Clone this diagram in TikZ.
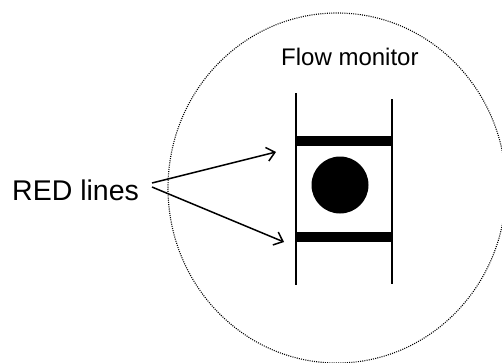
\documentclass[tikz,border=0pt]{standalone}
\usepackage{fontspec}
\setmainfont{Liberation Sans}
\usetikzlibrary{arrows.meta}
\begin{document}
\begin{tikzpicture}[x=1pt,y=-1pt,
  zone/.style={draw, line width=1.1pt, dash pattern=on 1pt off 1.2pt},
  rail/.style={line width=2pt},
  bar/.style={fill=black, draw=none},
  pointer/.style={line width=1.5pt, -{Straight Barb[length=8pt,width=14pt,line width=1.5pt]}},
  labelbig/.style={font=\fontsize{28.5}{32}\selectfont, inner sep=0pt},
  labelsmall/.style={font=\fontsize{24}{28}\selectfont, inner sep=0pt}]
\useasboundingbox (0,0) rectangle (502,362);
% dotted zone
\draw[zone] (337,188) ellipse [x radius=169pt, y radius=175pt];
% monitor
\draw[rail] (296,93) -- (296,285);
\draw[rail] (392,99) -- (392,284);
\fill[bar] (296,136) rectangle (392,146);
\fill[bar] (296,232) rectangle (392,242);
\node[circle, fill=black, minimum size=57pt, inner sep=0pt] (ball) at (340,185) {};
% labels
\node[labelbig, anchor=base west] (red) at (12,200) {RED lines};
\node[labelsmall, anchor=base west] (flow) at (281,65) {Flow monitor};
% arrows
\coordinate (src1) at (152,183);
\coordinate (src2) at (152,187);
\coordinate (tip1) at (276,152);
\coordinate (tip2) at (284,242);
\draw[pointer] (src1) -- (tip1);
\draw[pointer] (src2) -- (tip2);
\end{tikzpicture}
\end{document}
